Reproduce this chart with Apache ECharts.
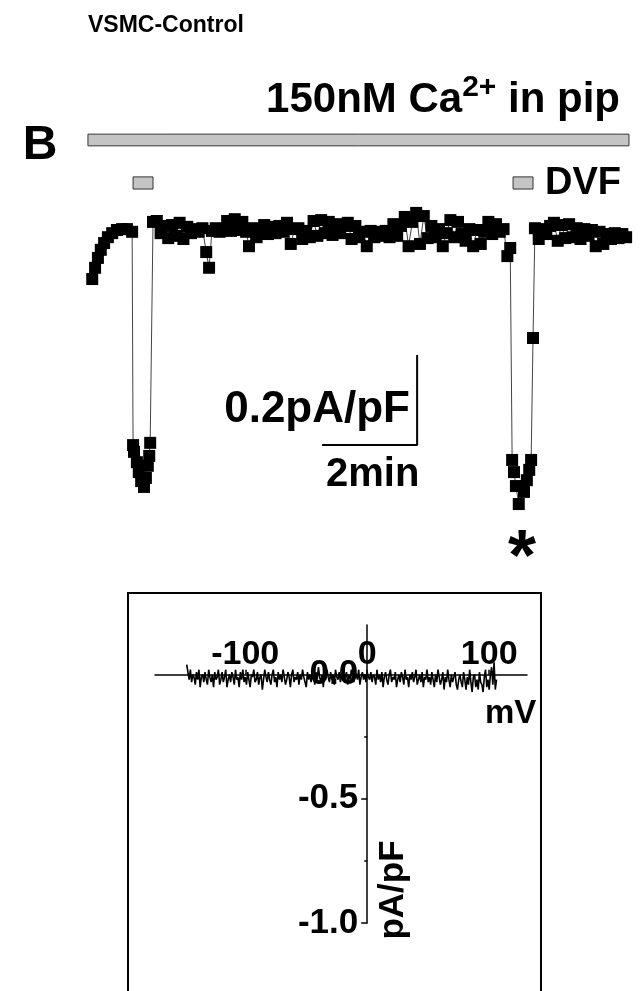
<!DOCTYPE html>
<html>
<head>
<meta charset="utf-8">
<script src="https://cdn.jsdelivr.net/npm/echarts@6/dist/echarts.min.js"></script>
<style>html,body{margin:0;padding:0;background:#fff;}#c{width:640px;height:991px;}</style>
</head>
<body>
<div id="c"></div>
<script>
// ---- Panel B time course (time in min, current in pA/pF) ----
const timeMin = [
0.11,0.17,0.23,0.29,0.36,0.44,0.53,0.63,0.74,0.84,0.95,
0.97,0.99,1.05,1.09,1.14,1.20,1.24,1.28,1.31,1.33,
1.39,1.47,1.55,1.63,1.71,1.79,1.87,1.95,2.03,2.11,2.19,2.27,2.35,2.43,2.51,2.57,2.63,2.71,2.79,2.87,
2.95,3.03,3.11,3.19,3.27,3.35,3.41,3.49,3.57,3.65,3.73,3.81,3.89,3.97,4.05,4.13,4.21,4.29,4.37,4.45,
4.53,4.61,4.69,4.77,4.85,4.93,5.01,5.09,5.17,5.25,5.33,5.41,5.49,5.57,5.65,5.73,5.81,5.89,5.97,6.05,
6.13,6.21,6.29,6.37,6.45,6.53,6.61,6.69,6.77,6.85,6.93,7.01,7.09,7.17,7.25,7.33,7.41,7.49,7.57,7.65,
7.73,7.81,7.89,7.97,8.05,8.13,8.21,8.29,8.37,8.45,8.53,8.61,8.69,8.77,8.85,8.91,
8.95,8.99,9.03,9.09,9.20,9.26,9.31,9.35,9.39,
9.43,9.51,9.59,9.67,9.75,9.83,9.91,9.99,10.07,10.15,10.23,10.31,10.39,10.47,10.55,10.63,10.71,10.79,10.87,10.95,
11.03,11.11,11.19,11.27,11.35];
const currentPApF = [
-0.109,-0.084,-0.062,-0.044,-0.029,-0.016,-0.007,0,0.002,0.002,-0.004,
-0.478,-0.493,-0.516,-0.538,-0.558,-0.571,-0.551,-0.524,-0.502,-0.473,
0.018,0.020,-0.007,0.009,-0.018,0.011,-0.013,0.016,-0.020,0.007,-0.007,0.002,-0.004,0.004,-0.049,-0.084,-0.002,0.004,-0.004,0.002,
0.020,-0.002,0.024,0,0.018,-0.004,-0.036,0.004,-0.016,0,0.011,-0.009,0.007,-0.007,0.009,-0.004,0.016,-0.031,0.002,0.004,
-0.020,-0.002,-0.016,0.020,-0.013,0.022,-0.007,0.018,-0.011,0.013,-0.007,0.009,0.016,-0.020,0.009,-0.016,-0.004,-0.036,-0.002,-0.016,
-0.004,-0.013,-0.002,-0.016,0.013,-0.013,0.009,0.029,-0.036,0.018,0.038,-0.031,0.031,-0.018,0.009,-0.016,0.002,-0.036,-0.007,0.022,
-0.016,0.018,-0.009,-0.024,0.002,-0.036,0,-0.031,-0.004,0.018,-0.009,0.013,-0.004,0.002,-0.058,-0.040,
-0.511,-0.538,-0.569,-0.609,-0.582,-0.556,-0.533,-0.511,-0.240,
0.004,-0.020,0.002,-0.009,0.009,0.016,-0.024,0.011,-0.018,0.013,-0.016,0.004,-0.020,0.002,-0.013,0,-0.036,-0.004,-0.031,-0.009,
-0.020,-0.007,-0.018,-0.009,-0.016];
// application bars: [start min, end min, top, bottom]
const pipetteBar = [0.02, 11.41, 0.213, 0.187];
const dvfBars = [[0.97, 1.39, 0.118, 0.091], [8.97, 9.39, 0.118, 0.091]];
// scale bar: 2 min horizontal, 0.2 pA/pF vertical
const scaleBarTime = [4.95, 6.95, 6.95];
const scaleBarCurrent = [-0.478, -0.478, -0.278];

// ---- I-V relation (mV, pA/pF) ----
const voltageMV = [
-148,-147,-146,-145,-144,-143,-142,-141,-140,-139,-138,-137,-136,-135,-134,-133,-132,-131,-130,-129,-128,-127,-126,-125,-124,
-123,-122,-121,-120,-119,-118,-117,-116,-115,-114,-113,-112,-111,-110,-109,-108,-107,-106,-105,-104,-103,-102,-101,-100,-99,
-98,-97,-96,-95,-94,-93,-92,-91,-90,-89,-88,-87,-86,-85,-84,-83,-82,-81,-80,-79,-78,-77,-76,-75,-74,
-73,-72,-71,-70,-69,-68,-67,-66,-65,-64,-63,-62,-61,-60,-59,-58,-57,-56,-55,-54,-53,-52,-51,-50,-49,
-48,-47,-46,-45,-44,-43,-42,-41,-40,-39,-38,-37,-36,-35,-34,-33,-32,-31,-30,-29,-28,-27,-26,-25,-24,
-23,-22,-21,-20,-19,-18,-17,-16,-15,-14,-13,-12,-11,-10,-9,-8,-7,-6,-5,-4,-3,-2,-1,0,1,
2,3,4,5,6,7,8,9,10,11,12,13,14,15,16,17,18,19,20,21,22,23,24,25,26,
27,28,29,30,31,32,33,34,35,36,37,38,39,40,41,42,43,44,45,46,47,48,49,50,51,
52,53,54,55,56,57,58,59,60,61,62,63,64,65,66,67,68,69,70,71,72,73,74,75,76,
77,78,79,80,81,82,83,84,85,86,87,88,89,90,91,92,93,94,95,96,97,98,99,100,101,
102,103,104,105,106];
const ivCurrent = [
0.04,0.01,-0.02,0.02,-0.03,0.0,-0.01,-0.04,0.01,-0.02,0.02,-0.05,-0.01,0.0,-0.03,0.01,-0.02,-0.04,0.02,-0.01,-0.03,0.0,-0.05,0.01,-0.02,
-0.01,0.02,-0.04,-0.02,0.01,-0.03,-0.01,0.02,-0.05,-0.02,0.0,-0.03,0.01,-0.01,-0.04,0.02,-0.02,-0.01,-0.05,0.01,-0.02,0.02,-0.03,-0.01,-0.04,
0.01,-0.02,-0.05,0.0,-0.01,0.02,-0.03,-0.02,0.01,-0.04,-0.01,0.0,-0.06,-0.02,0.02,-0.01,-0.03,0.01,-0.02,-0.04,0.0,0.02,-0.03,-0.01,-0.05,
0.01,-0.02,0.0,-0.03,0.02,-0.01,-0.04,-0.02,0.01,-0.01,-0.05,0.0,0.02,-0.03,-0.01,-0.02,0.01,-0.04,0.0,-0.02,0.02,-0.01,-0.03,-0.05,0.01,
-0.02,0.0,-0.03,0.02,-0.01,-0.04,0.01,-0.02,0.03,-0.01,-0.03,0.0,-0.05,0.01,-0.02,0.02,-0.01,-0.03,0.01,-0.02,0.0,-0.04,0.02,-0.01,-0.02,
0.01,-0.03,0.0,0.02,-0.02,-0.01,0.01,-0.04,0.0,-0.02,0.02,-0.01,-0.03,0.01,0.0,-0.02,0.02,-0.04,-0.01,0.01,-0.02,0.0,-0.03,0.01,-0.01,
-0.02,0.01,-0.03,0.0,-0.01,-0.04,0.02,-0.02,0.0,-0.03,0.01,-0.05,-0.01,0.01,-0.02,-0.04,0.0,0.02,-0.03,-0.01,-0.02,0.01,-0.05,-0.02,0.0,
-0.03,0.01,-0.01,-0.04,0.02,-0.02,-0.01,-0.05,0.0,-0.02,0.01,-0.03,-0.01,0.02,-0.04,-0.02,0.0,-0.03,0.01,-0.05,-0.01,-0.02,0.02,-0.03,-0.01,
-0.04,0.01,-0.02,-0.05,0.0,-0.03,0.02,-0.01,-0.04,-0.02,0.01,-0.06,-0.01,-0.03,0.02,-0.02,-0.05,0.0,-0.03,-0.01,0.01,-0.04,-0.06,-0.02,0.0,
-0.03,-0.05,0.01,-0.02,-0.06,-0.01,-0.04,0.02,-0.03,-0.07,-0.01,0.0,-0.05,-0.02,-0.06,0.01,-0.03,-0.04,-0.07,-0.01,0.02,-0.05,-0.02,-0.06,0.0,
0.03,-0.04,0.05,-0.06,-0.02];
const ivXTicks = [-100, 0, 100];
const ivYTicks = [-1.0, -0.5, 0];

const FF = '"Liberation Sans", Arial, sans-serif';
const font = (s) => 'bold ' + s + 'px ' + FF;

// I-V grid geometry
const ivGrid = {left: 155, top: 625, width: 372, height: 298};
const ivX = [-174, 131], ivY = [-1.0, 0.2];
const zeroXOffset = (0 - ivX[0]) / (ivX[1] - ivX[0]) * ivGrid.width;   // y axis sits at 0 mV
const zeroYOffset = (ivY[1] - 0) / (ivY[1] - ivY[0]) * ivGrid.height;  // x axis sits at 0 pA/pF

const chart = echarts.init(document.getElementById('c'), null, {renderer: 'canvas'});

const barRender = function (params, api) {
  const p1 = api.coord([api.value(0), api.value(2)]);
  const p2 = api.coord([api.value(1), api.value(3)]);
  return {type: 'rect', shape: {x: p1[0], y: p1[1], width: p2[0] - p1[0], height: p2[1] - p1[1]},
    style: {fill: '#c4c4c4', stroke: '#333', lineWidth: 1}};
};

chart.setOption({
  animation: false,
  backgroundColor: '#fff',
  grid: [
    {left: 87, top: 117.5, width: 551, height: 427.5},
    ivGrid
  ],
  xAxis: [
    {gridIndex: 0, type: 'value', min: 0, max: 11.6, show: false},
    {gridIndex: 1, type: 'value', min: ivX[0], max: ivX[1], position: 'top', offset: -zeroYOffset,
      axisLine: {onZero: false, lineStyle: {color: '#000', width: 1.5}},
      axisTick: {show: true, length: 5, customValues: ivXTicks, lineStyle: {color: '#000', width: 1.5}},
      axisLabel: {margin: 3, customValues: ivXTicks, color: '#000', fontWeight: 'bold', fontSize: 34, fontFamily: FF},
      splitLine: {show: false}}
  ],
  yAxis: [
    {gridIndex: 0, type: 'value', min: -0.7, max: 0.25, show: false},
    {gridIndex: 1, type: 'value', min: ivY[0], max: ivY[1], interval: 0.5, position: 'left', offset: -zeroXOffset,
      axisLine: {show: true, onZero: false, lineStyle: {color: '#000', width: 1.5}},
      axisTick: {show: true, length: 6, customValues: ivYTicks, lineStyle: {color: '#000', width: 1.5}},
      minorTick: {show: true, splitNumber: 2, length: 3, lineStyle: {color: '#000', width: 1.5}},
      axisLabel: {margin: 9, customValues: ivYTicks, color: '#000', fontWeight: 'bold', fontSize: 35, fontFamily: FF,
        formatter: (v) => v.toFixed(1)},
      splitLine: {show: false}}
  ],
  series: [
    {type: 'custom', xAxisIndex: 0, yAxisIndex: 0, renderItem: barRender, data: [pipetteBar].concat(dvfBars), silent: true, z: 1},
    {type: 'line', xAxisIndex: 0, yAxisIndex: 0, clip: false,
      data: timeMin.map((t, i) => [t, currentPApF[i]]),
      symbol: 'rect', symbolSize: 12, showAllSymbol: true,
      itemStyle: {color: '#000'}, lineStyle: {color: '#444', width: 1}, z: 3},
    {type: 'line', xAxisIndex: 0, yAxisIndex: 0, clip: false,
      data: scaleBarTime.map((t, i) => [t, scaleBarCurrent[i]]),
      symbol: 'none', lineStyle: {color: '#000', width: 2}, z: 2},
    {type: 'line', xAxisIndex: 1, yAxisIndex: 1, clip: false,
      data: voltageMV.map((v, i) => [v, ivCurrent[i]]),
      symbol: 'none', lineStyle: {color: '#000', width: 1.6}, z: 3}
  ],
  graphic: [
    {type: 'text', x: 88, y: 26, style: {text: 'VSMC-Control', font: font(23), fill: '#000', align: 'left', verticalAlign: 'middle'}},
    {type: 'text', x: 620, y: 97, style: {text: '{a|150nM Ca}{s|2+}{a| in pip}', align: 'right', verticalAlign: 'middle',
      rich: {a: {font: font(42), fill: '#000', verticalAlign: 'bottom'},
             s: {font: font(30), fill: '#000', padding: [0, 0, 19, 0], verticalAlign: 'bottom'}}}},
    {type: 'text', x: 40, y: 146, style: {text: 'B', font: font(48), fill: '#000', align: 'center', verticalAlign: 'middle'}},
    {type: 'text', x: 545, y: 184, style: {text: 'DVF', font: font(38), fill: '#000', align: 'left', verticalAlign: 'middle'}},
    {type: 'text', x: 410, y: 410, style: {text: '0.2pA/pF', font: font(44), fill: '#000', align: 'right', verticalAlign: 'middle'}},
    {type: 'text', x: 326, y: 475, style: {text: '2min', font: font(40), fill: '#000', align: 'left', verticalAlign: 'middle'}},
    {type: 'text', x: 522, y: 560, style: {text: '*', font: font(72), fill: '#000', align: 'center', verticalAlign: 'middle'}},
    {type: 'rect', shape: {x: 128, y: 593, width: 413, height: 420}, style: {fill: 'none', stroke: '#000', lineWidth: 2}, z: 0},
    {type: 'text', x: 485, y: 714, style: {text: 'mV', font: font(33), fill: '#000', align: 'left', verticalAlign: 'middle'}},
    {type: 'text', x: 393, y: 890, rotation: Math.PI / 2, style: {text: 'pA/pF', font: font(35), fill: '#000', align: 'center', verticalAlign: 'middle'}}
  ]
});
</script>
</body>
</html>
